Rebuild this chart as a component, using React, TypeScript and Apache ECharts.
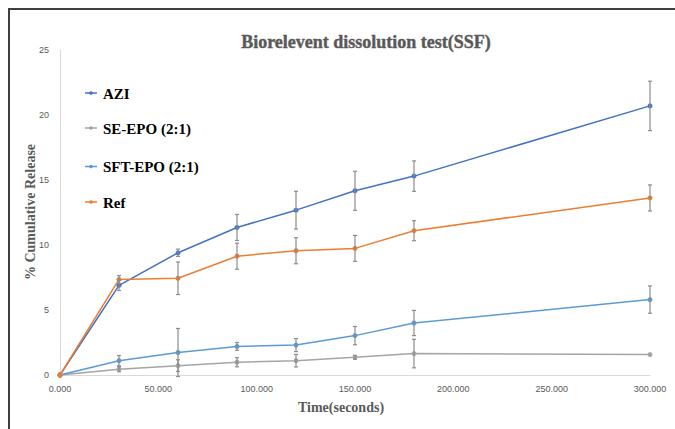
import React, { useEffect, useRef } from "react";
import * as echarts from "echarts";

const times = [0, 30, 60, 90, 120, 150, 180, 300];
const xTicks = [0, 50, 100, 150, 200, 250, 300];
const yTicks = [0, 5, 10, 15, 20, 25];

const seriesNames = ["AZI", "SE-EPO (2:1)", "SFT-EPO (2:1)", "Ref"];
const azi = [0, 6.9, 9.4, 11.35, 12.68, 14.17, 15.3, 20.7];
const aziErr = [0, 0.4, 0.28, 1.0, 1.45, 1.5, 1.17, 1.9];
const seEpo = [0, 0.45, 0.72, 0.98, 1.1, 1.36, 1.65, 1.57];
const seErr = [0, 0.2, 0.45, 0.35, 0.48, 0.15, 1.1, 0];
const sftEpo = [0, 1.1, 1.73, 2.2, 2.3, 3.03, 4.0, 5.8];
const sftErr = [0, 0.4, 1.85, 0.3, 0.5, 0.7, 0.97, 1.05];
const ref = [0, 7.35, 7.44, 9.14, 9.56, 9.74, 11.1, 13.62];
const refErr = [0, 0.3, 1.25, 1.0, 1.0, 1.0, 0.77, 1.0];

const colors = ["#4472C4", "#A5A5A5", "#5B9BD5", "#ED7D31"];

const allValues = [azi, seEpo, sftEpo, ref];
const allErrors = [aziErr, seErr, sftErr, refErr];

const SERIF = "Liberation Serif";

export default function App() {
  const ref0 = useRef<HTMLDivElement>(null);
  useEffect(() => {
    if (!ref0.current) return;
    const chart = echarts.init(ref0.current, null, { renderer: "svg" });

    const lineSeries = seriesNames.map((name, i) => ({
      name,
      type: "line",
      data: times.map((t, j) => [t, allValues[i][j]]),
      symbol: "circle",
      symbolSize: 5,
      showSymbol: true,
      lineStyle: { color: colors[i], width: 1.5 },
      itemStyle: { color: colors[i] },
      z: 3,
    }));

    const errSeries = seriesNames.map((name, i) => ({
      name: name + " err",
      type: "custom",
      silent: true,
      z: 4,
      data: times
        .map((t, j) => [t, allValues[i][j] - allErrors[i][j], allValues[i][j] + allErrors[i][j]])
        .filter((d, j) => allErrors[i][j] > 0),
      renderItem: (params: any, api: any) => {
        const x = api.value(0);
        const lo = api.coord([x, api.value(1)]);
        const hi = api.coord([x, api.value(2)]);
        const hw = 2;
        const style = { stroke: "#8c8c8c", lineWidth: 1.2 };
        return {
          type: "group",
          children: [
            { type: "line", shape: { x1: lo[0], y1: lo[1], x2: hi[0], y2: hi[1] }, style },
            { type: "line", shape: { x1: lo[0] - hw, y1: lo[1], x2: lo[0] + hw, y2: lo[1] }, style },
            { type: "line", shape: { x1: hi[0] - hw, y1: hi[1], x2: hi[0] + hw, y2: hi[1] }, style },
          ],
        };
      },
      encode: { x: 0, y: [1, 2] },
    }));

    const legendY = [93, 128, 166.5, 202];
    const legendGraphics: any[] = [];
    seriesNames.forEach((name, i) => {
      const y = legendY[i];
      legendGraphics.push(
        { type: "line", shape: { x1: 85, y1: y, x2: 97, y2: y }, style: { stroke: colors[i], lineWidth: 1.5 } },
        { type: "circle", shape: { cx: 91, cy: y, r: 1.8 }, style: { fill: colors[i] } },
        {
          type: "text",
          x: 103,
          y: y + 0.5,
          style: {
            text: name,
            fontFamily: SERIF,
            fontWeight: 700,
            fontSize: 15,
            fill: "#000000",
            textAlign: "left",
            textVerticalAlign: "middle",
          },
        }
      );
    });

    chart.setOption({
      animation: false,
      backgroundColor: "#ffffff",
      grid: { left: 60, right: 25, top: 50, bottom: 54 },
      xAxis: {
        type: "value",
        min: xTicks[0],
        max: xTicks[xTicks.length - 1],
        interval: 50,
        axisLine: { show: true, lineStyle: { color: "#d9d9d9", width: 1 } },
        axisTick: { show: false },
        splitLine: { show: false },
        axisLabel: {
          margin: 9,
          fontFamily: "Liberation Sans",
          fontSize: 9,
          color: "#595959",
          formatter: (v: number) => v.toFixed(3),
        },
      },
      yAxis: {
        type: "value",
        min: yTicks[0],
        max: yTicks[yTicks.length - 1],
        interval: 5,
        axisLine: { show: true, lineStyle: { color: "#d9d9d9", width: 1 } },
        axisTick: { show: false },
        splitLine: { show: false },
        axisLabel: {
          margin: 11,
          fontFamily: "Liberation Sans",
          fontSize: 9,
          color: "#595959",
        },
      },
      graphic: [
        { type: "line", shape: { x1: 8, y1: 9, x2: 675, y2: 9 }, style: { stroke: "#404040", lineWidth: 2 } },
        { type: "line", shape: { x1: 9, y1: 8, x2: 9, y2: 429 }, style: { stroke: "#404040", lineWidth: 2 } },
        {
          type: "text",
          x: 366,
          y: 42,
          style: {
            text: "Biorelevent dissolution test(SSF)",
            fontFamily: SERIF,
            fontWeight: 700,
            fontSize: 18,
            fill: "#595959",
            stroke: "#595959",
            lineWidth: 0.4,
            textAlign: "center",
            textVerticalAlign: "middle",
          },
        },
        {
          type: "text",
          x: 341,
          y: 407,
          style: {
            text: "Time(seconds)",
            fontFamily: SERIF,
            fontWeight: 700,
            fontSize: 14,
            fill: "#595959",
            textAlign: "center",
            textVerticalAlign: "middle",
          },
        },
        {
          type: "text",
          x: 30,
          y: 212,
          rotation: Math.PI / 2,
          style: {
            text: "% Cumulative Release",
            fontFamily: SERIF,
            fontWeight: 700,
            fontSize: 14,
            fill: "#595959",
            textAlign: "center",
            textVerticalAlign: "middle",
          },
        },
        ...legendGraphics,
      ],
      series: [...lineSeries, ...errSeries],
    });
    return () => chart.dispose();
  }, []);
  return (
    <div
      ref={ref0}
      style={{ position: "fixed", left: 0, top: 0, width: 675, height: 429, background: "#fff" }}
    />
  );
}
